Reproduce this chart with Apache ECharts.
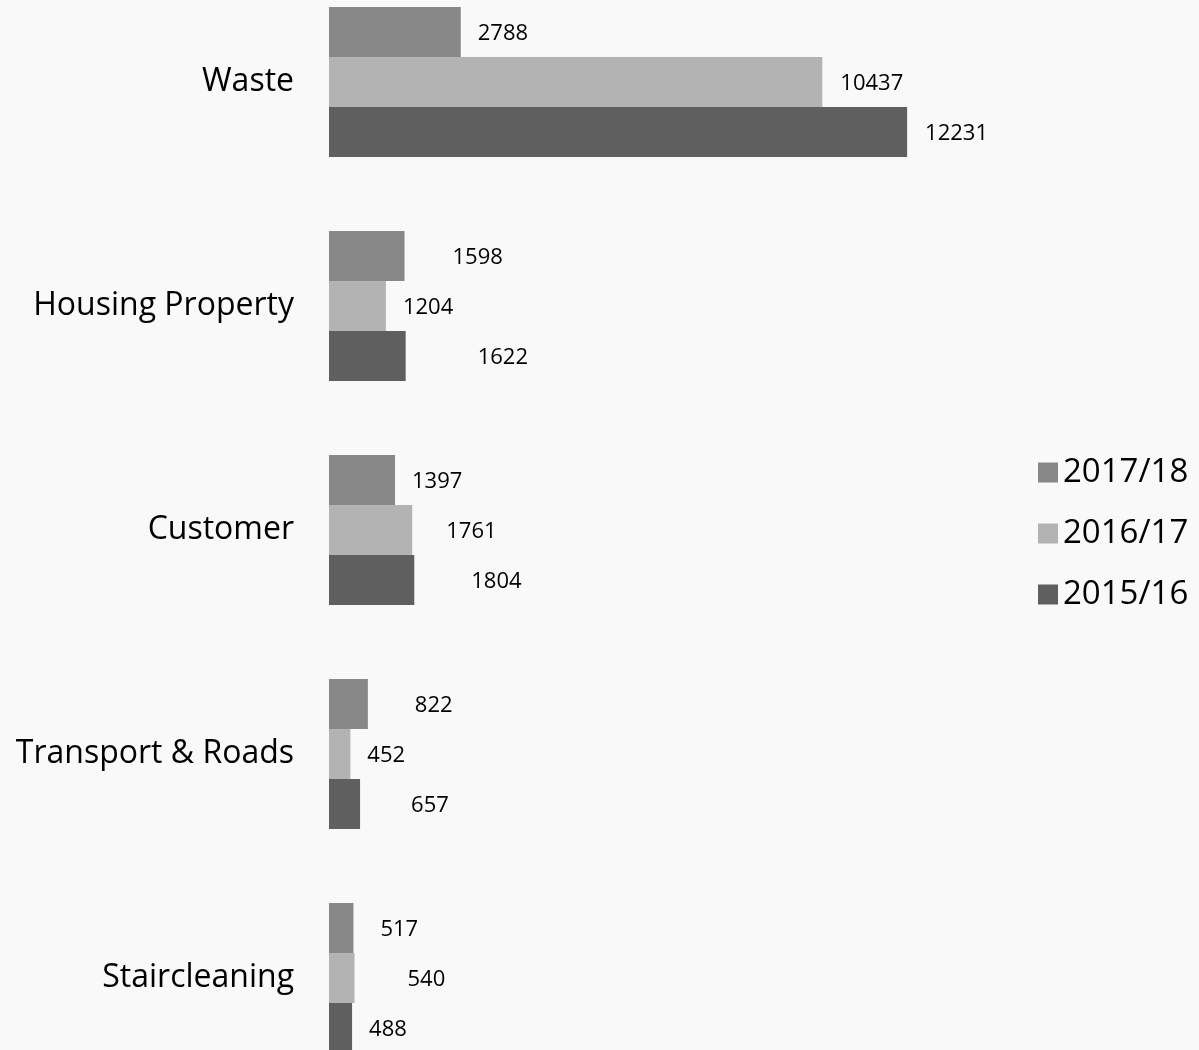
<!DOCTYPE html>
<html>
<head>
<meta charset="utf-8">
<script src="https://cdn.jsdelivr.net/npm/echarts@6/dist/echarts.min.js"></script>
<style>
  html, body { margin: 0; padding: 0; background: #f9f9f9; overflow: hidden; }
  /* chart is taller than the window: the first band starts above the top edge */
  #chart { width: 1199px; height: 1120px; position: relative; top: -30px; }
</style>
</head>
<body>
<div id="chart"></div>
<script>
const categories = ['Waste', 'Housing Property', 'Customer', 'Transport & Roads', 'Staircleaning']
const seriesNames = ['2017/18', '2016/17', '2015/16']
const values1718 = [2788, 1598, 1397, 822, 517]
const values1617 = [10437, 1204, 1761, 452, 540]
const values1516 = [12231, 1622, 1804, 657, 488]

const colors = ['#888888', '#b3b3b3', '#5f5f5f']
// extra label push to the right, as laid out in the original
const labelShift = [
  [0, 31, 0, 30, 10],
  [1, 0, 17, 0, 36],
  [1, 55, 40, 34, 0]
]

const chart = echarts.init(document.getElementById('chart'))
const allValues = [values1718, values1617, values1516]

const series = allValues.map((vals, i) => ({
  name: seriesNames[i],
  type: 'bar',
  barGap: '0%',
  barCategoryGap: '33%',
  itemStyle: { color: colors[i] },
  data: vals.map((v, j) => ({
    value: v,
    label: { distance: 17 + labelShift[i][j] }
  })),
  label: {
    show: true,
    position: 'right',
    color: '#000',
    fontFamily: 'Open Sans',
    fontSize: 22,
    offset: [0, 2]
  }
}))

const option = {
  backgroundColor: '#f9f9f9',
  animation: false,
  legend: {
    orient: 'vertical',
    left: 1033,
    top: 481,
    itemWidth: 20,
    itemHeight: 20,
    itemGap: 28,
    icon: 'rect',
    textStyle: { fontFamily: 'Open Sans', fontSize: 33, color: '#000' },
    data: seriesNames
  },
  grid: {
    left: 329,
    right: 161,
    top: 0,
    bottom: 0
  },
  xAxis: {
    type: 'value',
    min: 0,
    max: 15000,
    show: false
  },
  yAxis: {
    type: 'category',
    inverse: true,
    data: categories,
    axisLine: { show: false },
    axisTick: { show: false },
    axisLabel: {
      margin: 35,
      color: '#000',
      fontFamily: 'Open Sans',
      fontSize: 32
    }
  },
  series: series
}
chart.setOption(option)
</script>
</body>
</html>
